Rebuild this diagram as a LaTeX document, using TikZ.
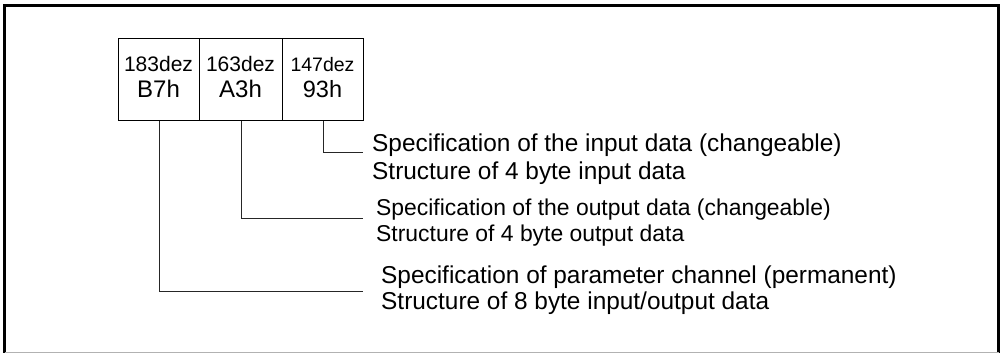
\documentclass[tikz,border=0pt]{standalone}
\usepackage{fontspec}
\setmainfont{Liberation Sans}
\begin{document}
\begin{tikzpicture}[x=1pt,y=-1pt,
  cell/.style={draw=black,line width=1pt,minimum height=82pt,inner sep=0pt,anchor=north west},
  dec/.style={anchor=base,inner sep=0pt,font=\fontsize{21}{24}\selectfont},
  hex/.style={anchor=base,inner sep=0pt,font=\fontsize{24}{28}\selectfont},
  desc/.style={anchor=base west,inner sep=0pt,font=\fontsize{24.4}{28}\selectfont},
  descs/.style={desc,font=\fontsize{22.9}{26}\selectfont},
  link/.style={draw=black!85,line width=1pt}]
\useasboundingbox (0,0) rectangle (1001,354);

% outer frame
\draw[line width=2.5pt] (4.5,352.5) -- (4.5,5.5) -- (998.5,5.5) -- (998.5,352.5);
\draw[black!30,line width=1.2pt] (4.5,352.5) -- (998.5,352.5);

% the three byte cells
\node[cell,minimum width=81pt] (b1) at (118,38) {};
\node[cell,minimum width=83pt] (b2) at (199,38) {};
\node[cell,minimum width=81pt] (b3) at (282,38) {};

\node[dec] (d1) at (158.5,71) {183dez};
\node[hex] (h1) at (158.5,97) {B7h};
\node[dec] (d2) at (240.5,71) {163dez};
\node[hex] (h2) at (240.5,97) {A3h};
\node[dec,font=\fontsize{19.5}{23}\selectfont] (d3) at (322.5,71) {147dez};
\node[hex,font=\fontsize{23.5}{27}\selectfont] (h3) at (322.5,97) {93h};

% connector end points
\coordinate (e3) at (363,152);
\coordinate (e2) at (363,218);
\coordinate (e1) at (363,291);

\draw[link] (b3.south) |- (e3);
\draw[link] (b2.south) |- (e2);
\draw[link] (b1.south) |- (e1);

% descriptions
\node[desc] (t3a) at (372,151) {Specification of the input data (changeable)};
\node[desc] (t3b) at (372,179) {Structure of 4 byte input data};
\node[descs] (t2a) at (376,215) {Specification of the output data (changeable)};
\node[descs] (t2b) at (376,241) {Structure of 4 byte output data};
\node[desc] (t1a) at (381,283) {Specification of parameter channel (permanent)};
\node[desc] (t1b) at (381,309) {Structure of 8 byte input/output data};
\end{tikzpicture}
\end{document}
